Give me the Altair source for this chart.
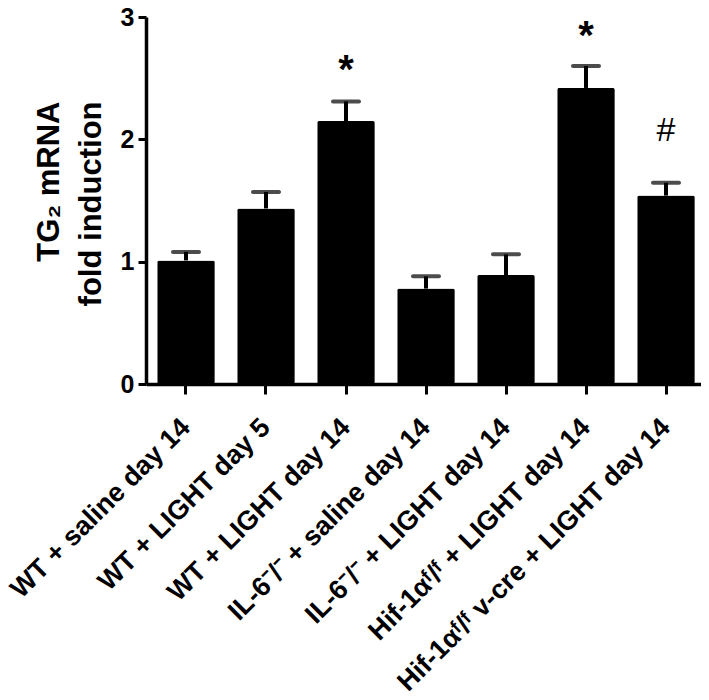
import altair as alt
import pandas as pd

categories = [
    "WT + saline day 14",
    "WT + LIGHT day 5",
    "WT + LIGHT day 14",
    "IL-6\u207b/\u207b + saline day 14",
    "IL-6\u207b/\u207b + LIGHT day 14",
    "Hif-1\u03b1\u1da0/\u1da0 + LIGHT day 14",
    "Hif-1\u03b1\u1da0/\u1da0 v-cre + LIGHT day 14",
]
means = [1.01, 1.435, 2.15, 0.78, 0.89, 2.42, 1.54]
uppers = [1.08, 1.57, 2.31, 0.88, 1.06, 2.60, 1.645]

ann_cats = [categories[2], categories[5], categories[6]]
ann_y = [2.59, 2.87, 2.06]
ann_text = ["*", "*", "#"]

df = pd.DataFrame({"cat": categories, "mean": means, "upper": uppers})
ann = pd.DataFrame({"cat": ann_cats, "y": ann_y, "t": ann_text})

FONT = "Liberation Sans"

x_scale = alt.Scale(paddingInner=0.28, paddingOuter=0.14, range=[0, 560])
y_scale = alt.Scale(domain=[0, 3], nice=False, range=[367, 0])

x_enc = alt.X(
    "cat:N",
    sort=categories,
    scale=x_scale,
    axis=alt.Axis(
        title=None,
        labelAngle=-45,
        labelAlign="right",
        labelBaseline="middle",
        labelFontSize=27,
        labelFontWeight="bold",
        labelFont=FONT,
        labelColor="black",
        labelLimit=0,
        labelPadding=29,
        tickSize=10,
        tickWidth=3,
        tickColor="black",
        domainWidth=3.5,
        domainColor="black",
    ),
)

bars = alt.Chart(df).mark_bar(color="black", cornerRadius=2).encode(
    x=x_enc,
    y=alt.Y(
        "mean:Q",
        scale=y_scale,
        axis=alt.Axis(
            title=["TG\u2082 mRNA", "fold induction"],
            titleFont=FONT,
            titleFontSize=31,
            titleFontWeight="bold",
            titleColor="black",
            titleAngle=-90,
            titleAlign="right",
            titleBaseline="alphabetic",
            titleLineHeight=42,
            titleX=-88,
            titleY=84,
            values=[0, 1, 2, 3],
            format="d",
            grid=False,
            labelFontSize=25,
            labelFontWeight="bold",
            labelFont=FONT,
            labelColor="black",
            labelPadding=4,
            tickSize=8,
            tickWidth=3,
            tickColor="black",
            domainWidth=3.5,
            domainColor="black",
        ),
    ),
)

stems = alt.Chart(df).mark_rule(color="black", strokeWidth=4).encode(
    x=alt.X("cat:N", sort=categories, scale=x_scale),
    y=alt.Y("mean:Q", scale=y_scale),
    y2="upper:Q",
)

caps = alt.Chart(df).mark_tick(color="black", size=30, thickness=4, cornerRadius=2).encode(
    x=alt.X("cat:N", sort=categories, scale=x_scale),
    y=alt.Y("upper:Q", scale=y_scale),
)

stars = alt.Chart(ann).transform_filter(alt.datum.t == "*").mark_text(
    font=FONT, fontSize=40, fontWeight="bold", color="black", baseline="middle", dy=4
).encode(
    x=alt.X("cat:N", sort=categories, scale=x_scale),
    y=alt.Y("y:Q", scale=y_scale),
    text="t:N",
)

hashes = alt.Chart(ann).transform_filter(alt.datum.t == "#").mark_text(
    font=FONT, fontSize=34, fontWeight="normal", color="black", baseline="middle", dy=-1
).encode(
    x=alt.X("cat:N", sort=categories, scale=x_scale),
    y=alt.Y("y:Q", scale=y_scale),
    text="t:N",
)

chart = (
    alt.layer(bars, stems, caps, stars, hashes)
    .properties(
        width=555,
        height=367,
        autosize=alt.AutoSizeParams(type="none"),
        padding={"left": 138, "top": 9, "right": 0, "bottom": 307},
    )
    .configure_view(stroke=None)
)

chart.save("out.html", embed_options={"renderer": "svg", "actions": False})
